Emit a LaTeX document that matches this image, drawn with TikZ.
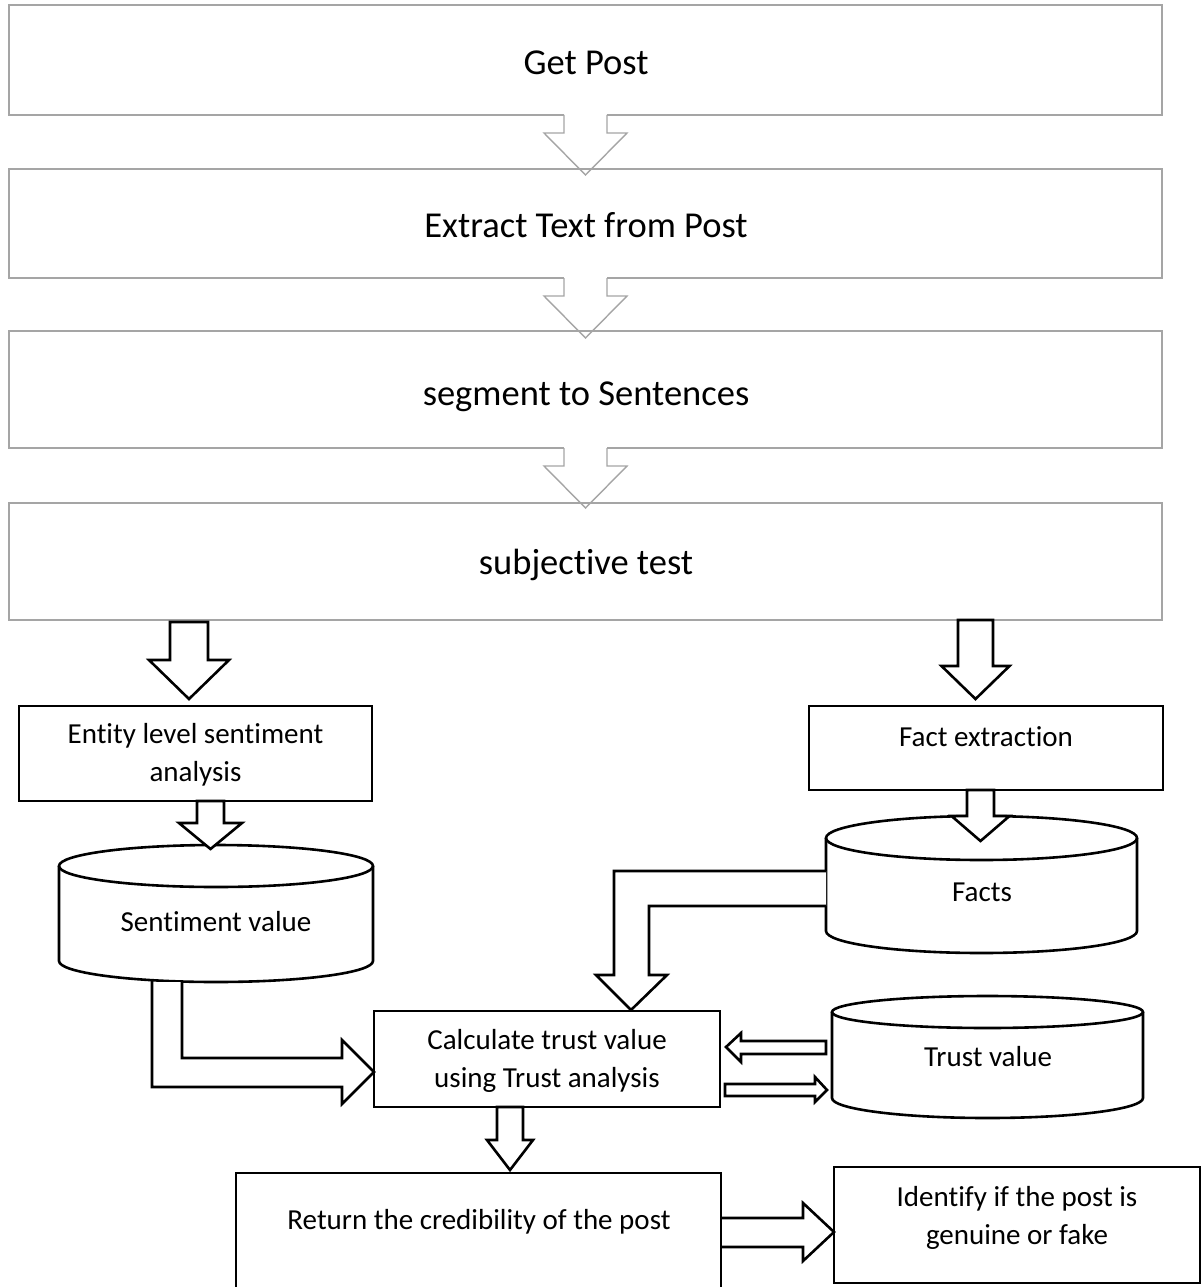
\documentclass[tikz,border=0pt]{standalone}
\usepackage{fontspec}
\setmainfont[Ligatures=NoCommon,RawFeature={-liga;-clig;-calt}]{Carlito}
\definecolor{gline}{RGB}{165,165,165}
\tikzset{
  gbox/.style={draw=gline, line width=1.4pt, inner sep=0pt, outer sep=0pt},
  bbox/.style={draw=black, line width=2.6pt, fill=white, inner sep=0pt, outer sep=0pt},
  bigtxt/.style={font=\fontsize{36.5}{44}\selectfont, inner sep=0pt},
  smalltxt/.style={font=\fontsize{29}{37.5}\selectfont, align=center, inner sep=0pt},
  garrow/.style={draw=gline, line width=1.4pt, line join=miter},
  barrow/.style={draw=black, line width=2.6pt, line join=miter, fill=white},
  bline/.style={draw=black, line width=2.6pt, line join=miter},
  cylline/.style={draw=black, line width=2.6pt}
}
% gray down arrow: cx, ytop, shaft half, yhead, head half, ytip
\newcommand\gdownarrow[6]{%
  \fill[white] (#1-#3,#2-2) rectangle (#1+#3,#2+3);
  \draw[garrow] (#1-#3,#2) -- (#1-#3,#4) -- (#1-#5,#4) -- (#1,#6) -- (#1+#5,#4) -- (#1+#3,#4) -- (#1+#3,#2);}
% black down arrow
\newcommand\bdownarrow[6]{%
  \draw[barrow] (#1-#3,#2) -- (#1-#3,#4) -- (#1-#5,#4) -- (#1,#6) -- (#1+#5,#4) -- (#1+#3,#4) -- (#1+#3,#2) -- cycle;}
% cylinder: cx, rx, ytop, rytop, ybot, rybot
\newcommand\cylinderdraw[6]{%
  \fill[white] (#1-#2,#3) -- (#1-#2,#5) arc[start angle=180, end angle=0, x radius=#2, y radius=#6] -- (#1+#2,#3) -- cycle;
  \fill[white] (#1,#3) ellipse [x radius=#2, y radius=#4];
  \draw[cylline] (#1,#3) ellipse [x radius=#2, y radius=#4];
  \draw[cylline] (#1-#2,#3) -- (#1-#2,#5) arc[start angle=180, end angle=0, x radius=#2, y radius=#6] -- (#1+#2,#3);}
\begin{document}
\begin{tikzpicture}[x=1pt,y=-1pt]
\useasboundingbox (0,0) rectangle (1204,1287);
\fill[white] (0,0) rectangle (1204,1287);

% top gray boxes
\node[gbox, minimum width=1153pt, minimum height=110pt] (b1) at (585.5,60) {};
\node[gbox, minimum width=1153pt, minimum height=109pt] (b2) at (585.5,223.5) {};
\node[gbox, minimum width=1153pt, minimum height=117pt] (b3) at (585.5,389.5) {};
\node[gbox, minimum width=1153pt, minimum height=117pt] (b4) at (585.5,561.5) {};
\node[bigtxt] (t1) at (586,63) {Get Post};
\node[bigtxt] (t2) at (586,225) {Extract Text from Post};
\node[bigtxt] (t3) at (586,397) {segment to Sentences};
\node[bigtxt] (t4) at (586,565) {subjective test};

\gdownarrow{585.5}{115}{21.5}{133}{41.5}{175}
\gdownarrow{585.5}{278}{21.5}{296}{41.5}{338}
\gdownarrow{585.5}{448}{21.5}{466}{41.5}{508}

% cylinders
\cylinderdraw{216}{157}{866}{21}{961}{21}
\cylinderdraw{981.5}{155.5}{838}{22}{931}{22}
\cylinderdraw{987.5}{155.5}{1012}{16}{1098}{20}
\node[smalltxt] (sv) at (216,922) {Sentiment value};
\node[smalltxt] (fa) at (982,892) {Facts};
\node[smalltxt] (tv) at (988,1057) {Trust value};

% black boxes
\node[bbox, minimum width=353pt, minimum height=95pt] (ent) at (195.5,753.5) {};
\node[smalltxt] (entt) at (195.5,755) {Entity level sentiment\\analysis};
\node[bbox, minimum width=354pt, minimum height=84pt] (fact) at (986,748) {};
\node[smalltxt] (factt) at (986,737) {Fact extraction};
\node[bbox, minimum width=346pt, minimum height=96pt] (calc) at (547,1059) {};
\node[smalltxt] (calct) at (547,1061) {Calculate trust value\\using Trust analysis};
\node[bbox, minimum width=485pt, minimum height=127pt] (ret) at (478.5,1236.5) {};
\node[smalltxt] (rett) at (479,1222) {Return the credibility of the post};
\node[bbox, minimum width=366pt, minimum height=116pt] (idf) at (1017,1225) {};
\node[smalltxt] (idft) at (1017,1218) {Identify if the post is\\genuine or fake};

% black block arrows
\bdownarrow{189}{622}{19}{660}{40}{699}
\bdownarrow{975.5}{620}{17.5}{666}{34}{699}
\bdownarrow{210.5}{801}{13.5}{823}{31.5}{849}
\bdownarrow{980.5}{790}{13.5}{816}{29}{841}
\bdownarrow{510}{1107}{13}{1140}{23}{1170}

% bent arrow sentiment -> calc
\fill[white] (152,982) -- (152,1087) -- (342,1087) -- (342,1104) -- (374,1072) -- (342,1040) -- (342,1058) -- (182,1058) -- (182,982) -- cycle;
\draw[bline] (152,980) -- (152,1087) -- (342,1087) -- (342,1104) -- (calc.west |- 0,1072) -- (342,1040) -- (342,1058) -- (182,1058) -- (182,981);

% bent arrow facts -> calc
\fill[white] (826,871) -- (614,871) -- (614,975) -- (596,975) -- (631,1010) -- (667,975) -- (649,975) -- (649,906) -- (826,906) -- cycle;
\draw[bline] (826,871) -- (614,871) -- (614,975) -- (596,975) -- (631,1010) -- (667,975) -- (649,975) -- (649,906) -- (826,906);

% small arrows between calc and trust
\draw[barrow] (826,1041) -- (741,1041) -- (741,1033) -- (726,1047) -- (741,1062) -- (741,1054) -- (826,1054) -- cycle;
\draw[barrow] (725,1084) -- (815,1084) -- (815,1077) -- (827,1090) -- (815,1102) -- (815,1096) -- (725,1096) -- cycle;

% return -> identify
\fill[white] (722,1218) -- (803,1218) -- (803,1203) -- (832,1232) -- (803,1261) -- (803,1247) -- (722,1247) -- cycle;
\draw[bline] (721,1218) -- (803,1218) -- (803,1203) -- (idf.west |- 0,1232) -- (803,1261) -- (803,1247) -- (721,1247);
\end{tikzpicture}
\end{document}
